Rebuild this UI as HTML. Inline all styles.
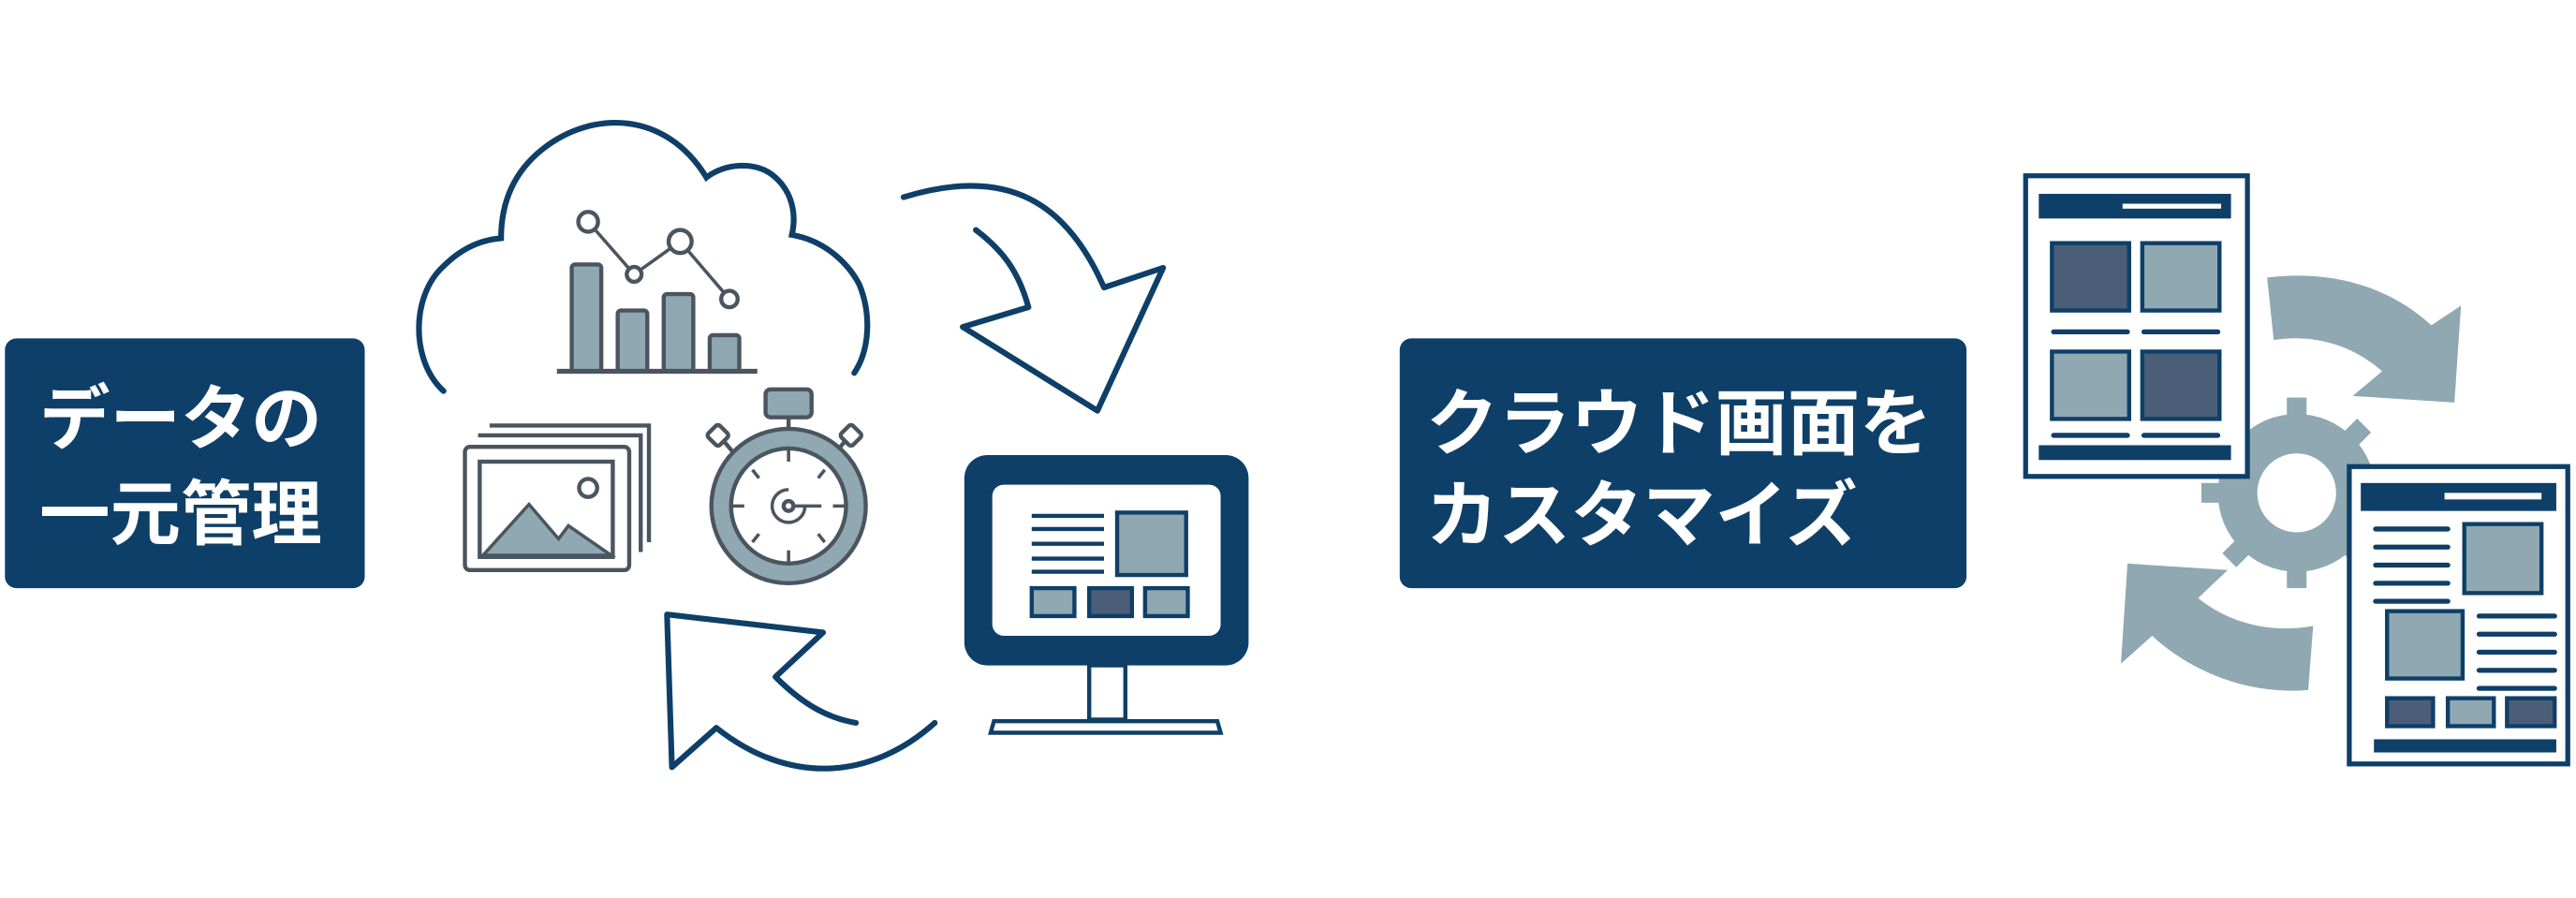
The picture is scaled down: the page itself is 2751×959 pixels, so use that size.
<!DOCTYPE html>
<html><head><meta charset="utf-8"><style>html,body{margin:0;padding:0;background:#fff}svg{display:block}</style></head>
<body>
<svg width="2751" height="959" viewBox="0 0 1568 546.6" xmlns="http://www.w3.org/2000/svg">
<g font-family="'Liberation Sans','Noto Sans CJK JP',sans-serif" font-weight="bold" fill="#fff">
<rect x="3" y="206" width="219" height="152" rx="7" fill="#0e3f68"/>
<text x="24" y="270" font-size="43" fill="#fff">データの</text>
<text x="24" y="328" font-size="43" fill="#fff">一元管理</text>
<rect x="852" y="206" width="345" height="152" rx="7" fill="#0e3f68"/>
<text x="868" y="273" font-size="44" fill="#fff">クラウド画面を</text>
<text x="868" y="329" font-size="44" fill="#fff">カスタマイズ</text>
</g>
<!-- cloud -->
<path d="M270,238 C250,220 250,180 270,162 C280,152 292,146 305,145 C305,120 315,103 330,91 C360,67 405,67 430,108 C440,100 460,97 472,108 C482,117 485,130 482,143 C500,146 515,158 523,173 C530,190 530,212 520,227" fill="none" stroke="#0e3f68" stroke-width="3.5" stroke-linecap="round"/>
<g fill="#8fa8b1" stroke="#4a5560" stroke-width="2.5">
<rect x="348" y="161" width="18" height="65" rx="2"/><rect x="376" y="189" width="18" height="37" rx="2"/><rect x="404" y="179" width="18" height="47" rx="2"/><rect x="432" y="204" width="18" height="22" rx="2"/>
</g>
<line x1="339" y1="226" x2="461" y2="226" stroke="#4a5560" stroke-width="3"/>
<polyline points="358,135 386,167 414,147 444,182" fill="none" stroke="#4a5560" stroke-width="2"/>
<g fill="#fff" stroke="#4a5560" stroke-width="2.5"><circle cx="358" cy="135" r="6"/><circle cx="386" cy="167" r="4.5"/><circle cx="414" cy="147" r="7"/><circle cx="444" cy="182" r="5"/></g>
<!-- photos -->
<g fill="none" stroke="#4a5560" stroke-width="2.5">
<path d="M298,259 H395 V330"/><path d="M291,265 H390 V336"/>
<rect x="283" y="272" width="100" height="75" rx="3" fill="#fff"/>
<rect x="292" y="281" width="81" height="58" fill="#fff"/>
</g>
<path d="M294,338 L322,307 L340,328 L346,320 L372,338 Z" fill="#8fa8b1" stroke="#4a5560" stroke-width="2"/>
<circle cx="358" cy="297" r="5.5" fill="#fff" stroke="#4a5560" stroke-width="2.5"/>
<!-- stopwatch -->
<g stroke="#4a5560" stroke-width="2.5">
<rect x="466" y="237" width="28" height="17" rx="3" fill="#8fa8b1"/>
<line x1="480" y1="254" x2="480" y2="262"/>
<rect x="432" y="260" width="10" height="10" rx="2" fill="#fff" transform="rotate(45 437 265)"/>
<rect x="513" y="260" width="10" height="10" rx="2" fill="#fff" transform="rotate(45 518 265)"/>
<line x1="441" y1="269" x2="446" y2="275"/><line x1="514" y1="269" x2="509" y2="275"/>
<circle cx="480" cy="308" r="47" fill="#8fa8b1"/>
<circle cx="480" cy="308" r="35" fill="#fff"/>
<g stroke-width="2"><line x1="480" y1="274" x2="480" y2="281"/><line x1="480" y1="335" x2="480" y2="342"/><line x1="446" y1="308" x2="453" y2="308"/><line x1="507" y1="308" x2="514" y2="308"/>
<line x1="458" y1="286" x2="462" y2="291"/><line x1="502" y1="286" x2="498" y2="291"/><line x1="458" y1="330" x2="462" y2="325"/><line x1="502" y1="330" x2="498" y2="325"/>
<path d="M480,298 A10,10 0 1,0 490,308" fill="none"/><line x1="480" y1="308" x2="500" y2="308"/></g>
<circle cx="480" cy="308" r="3" fill="#fff"/>
</g>
<!-- arrows -->
<g fill="none" stroke="#0e3f68" stroke-width="3.5" stroke-linejoin="round" stroke-linecap="round">
<path d="M550,120 C615,100 650,125 672,175 L708,163 L668,250 L586,199 L626,187 C620,165 610,152 594,140"/>
<path d="M569,440 C530,475 480,478 436,443 L409,467 L406,374 L501,385 L472,412 C488,428 503,437 521,440"/>
</g>
<!-- monitor -->
<rect x="587" y="277" width="173" height="128" rx="14" fill="#0e3f68"/>
<rect x="604" y="295" width="139" height="92" rx="7" fill="#fff"/>
<g stroke="#0e3f68" stroke-width="2.5"><line x1="628" y1="314" x2="672" y2="314"/><line x1="628" y1="322" x2="672" y2="322"/><line x1="628" y1="331" x2="672" y2="331"/><line x1="628" y1="340" x2="672" y2="340"/><line x1="628" y1="348" x2="672" y2="348"/>
<rect x="680" y="312" width="42" height="38" fill="#8fa8b1"/>
<rect x="628" y="358" width="26" height="17" fill="#8fa8b1"/><rect x="663" y="358" width="26" height="17" fill="#4a5e78"/><rect x="697" y="358" width="26" height="17" fill="#8fa8b1"/>
<rect x="663" y="405" width="22" height="33" fill="#fff"/>
<path d="M605,439 H741 L743,446 H603 Z" fill="#fff"/></g>
<!-- gear -->
<g fill="#8fa8b1">
<g transform="translate(1398,300)">
<rect x="-6" y="-58" width="12" height="116"/><rect x="-6" y="-58" width="12" height="116" transform="rotate(45)"/><rect x="-6" y="-58" width="12" height="116" transform="rotate(90)"/><rect x="-6" y="-58" width="12" height="116" transform="rotate(135)"/>
<circle r="48"/></g>
<path d="M1380,169 C1420,164 1455,175 1480,198 L1498,186 L1494,245 L1432,241 L1450,226 C1432,210 1408,203 1384,207 Z"/>
<path d="M1408,381 C1380,386 1355,378 1338,364 L1356,347 L1295,343 L1291,404 L1310,387 C1335,410 1370,423 1405,420 Z"/>
</g>
<circle cx="1398" cy="300" r="24" fill="#fff"/>
<!-- doc1 -->
<g stroke="#0e3f68">
<rect x="1233" y="107" width="135" height="183" fill="#fff" stroke-width="3"/>
<rect x="1241" y="118" width="117" height="15" fill="#0e3f68" stroke="none"/>
<rect x="1249" y="148" width="47" height="41" fill="#4a5e78" stroke-width="2.5"/><rect x="1304" y="148" width="47" height="41" fill="#8fa8b1" stroke-width="2.5"/>
<rect x="1249" y="214" width="47" height="41" fill="#8fa8b1" stroke-width="2.5"/><rect x="1304" y="214" width="47" height="41" fill="#4a5e78" stroke-width="2.5"/>
<g stroke-width="3" stroke-linecap="round"><line x1="1250" y1="202" x2="1295" y2="202"/><line x1="1305" y1="202" x2="1350" y2="202"/><line x1="1250" y1="265" x2="1295" y2="265"/><line x1="1305" y1="265" x2="1350" y2="265"/></g>
<rect x="1241" y="271" width="117" height="9" fill="#0e3f68" stroke="none"/>
</g>
<rect x="1292" y="124" width="60" height="3" fill="#fff"/>
<!-- doc2 -->
<g stroke="#0e3f68">
<rect x="1430" y="284" width="133" height="181" fill="#fff" stroke-width="3"/>
<rect x="1437" y="294" width="119" height="17" fill="#0e3f68" stroke="none"/>
<g stroke-width="3" stroke-linecap="round">
<line x1="1446" y1="322" x2="1490" y2="322"/><line x1="1446" y1="333" x2="1490" y2="333"/><line x1="1446" y1="344" x2="1490" y2="344"/><line x1="1446" y1="355" x2="1490" y2="355"/><line x1="1446" y1="366" x2="1490" y2="366"/>
<line x1="1509" y1="375" x2="1555" y2="375"/><line x1="1509" y1="386" x2="1555" y2="386"/><line x1="1509" y1="397" x2="1555" y2="397"/><line x1="1509" y1="408" x2="1555" y2="408"/><line x1="1509" y1="419" x2="1555" y2="419"/></g>
<rect x="1500" y="319" width="47" height="42" fill="#8fa8b1" stroke-width="2.5"/>
<rect x="1453" y="372" width="46" height="41" fill="#8fa8b1" stroke-width="2.5"/>
<rect x="1453" y="425" width="28" height="17" fill="#4a5e78" stroke-width="2.5"/><rect x="1490" y="425" width="28" height="17" fill="#8fa8b1" stroke-width="2.5"/><rect x="1526" y="425" width="29" height="17" fill="#4a5e78" stroke-width="2.5"/>
<rect x="1445" y="450" width="111" height="8" fill="#0e3f68" stroke="none"/>
</g>
<rect x="1488" y="300" width="59" height="4" fill="#fff"/>
</svg>
</body></html>
